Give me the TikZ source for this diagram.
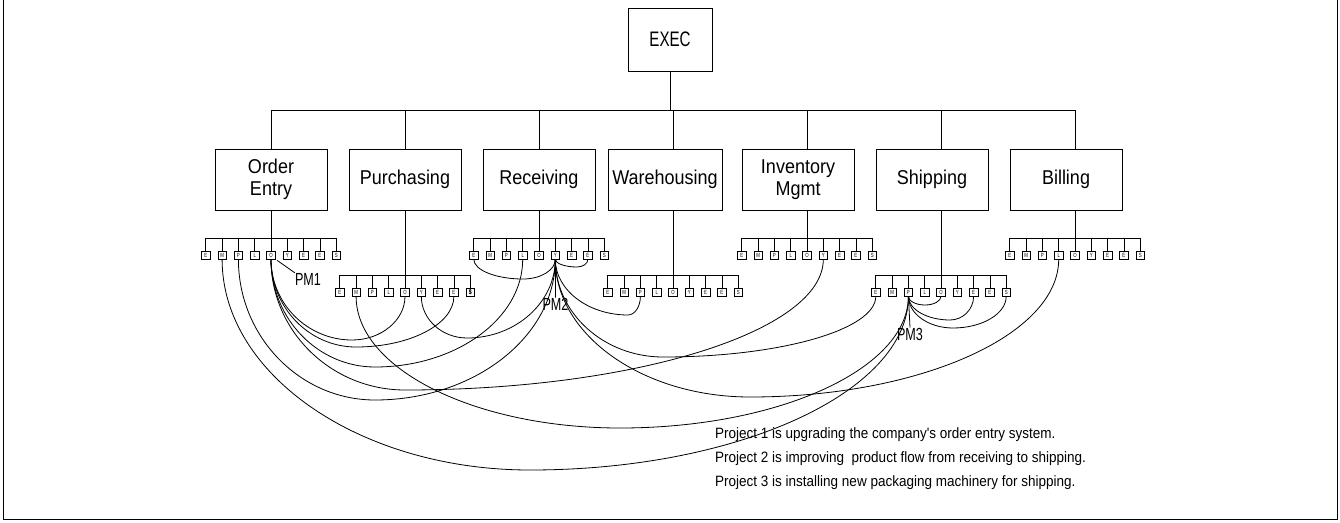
\documentclass[tikz,border=0pt]{standalone}
\usepackage{fontspec}
\setmainfont{Liberation Sans}
\newfontfamily\deptf[FakeStretch=0.9]{Liberation Sans}
\newfontfamily\capf[FakeStretch=0.72]{Liberation Sans}
\newfontfamily\textf[FakeStretch=0.9]{Liberation Sans}
\usetikzlibrary{calc}
\tikzset{
  dept/.style={draw, line width=0.8pt, minimum width=112pt, minimum height=61pt, align=center, inner sep=0pt, font=\deptf\fontsize{20}{22}\selectfont},
  exbox/.style={draw, line width=0.8pt, minimum width=84pt, minimum height=63pt, inner sep=0pt, font=\capf\fontsize{21}{22}\selectfont},
  emp/.style={draw, line width=0.6pt, minimum width=8.5pt, minimum height=8pt, inner sep=0pt, font=\capf\fontsize{6}{6}\selectfont},
  org/.style={line width=0.8pt},
  link/.style={line width=0.8pt},
  pmlab/.style={font=\capf\fontsize{17.5}{18}\selectfont, inner sep=0pt},
  note/.style={anchor=west, inner sep=0pt, font=\textf\fontsize{15}{16}\selectfont}
}
\newcommand\lnk[4]{%
  \pgfpointanchor{#1}{south}\pgfgetlastxy{\lax}{\lay}%
  \pgfpointanchor{#2}{south}\pgfgetlastxy{\lbx}{\lby}%
  \pgfmathsetmacro\ha{0.55*(#4+\lay)}%
  \pgfmathsetmacro\wa{0.55*(#3-\lax)}%
  \pgfmathsetmacro\hb{0.55*(#4+\lby)}%
  \pgfmathsetmacro\wb{0.55*(\lbx-#3)}%
  \draw[link] (#1.south) .. controls +(0,\ha) and +(-\wa,0) .. (#3,#4) .. controls +(\wb,0) and +(0,\hb) .. (#2.south);}
\begin{document}
\begin{tikzpicture}[x=1pt,y=-1pt]
\useasboundingbox (0,0) rectangle (1340,522);
\draw[line width=0.8pt] (3,0) -- (3,519) -- (1337,519) -- (1337,0);
% exec
\node[exbox] (exec) at (670,39.5) {EXEC};
% departments
\node[dept] (oe) at (271,179.5) {Order\\Entry};
\node[dept] (pu) at (405,179.5) {Purchasing};
\node[dept] (rc) at (539,179.5) {Receiving};
\node[dept, minimum width=114pt] (wh) at (665,179.5) {Warehousing};
\node[dept] (in) at (798,179.5) {Inventory\\Mgmt};
\node[dept] (sh) at (932,179.5) {Shipping};
\node[dept] (bi) at (1066,179.5) {Billing};
\draw[org] (exec.south) -- (670,110);
\draw[org] (271,110) -- (1075,110);
\foreach \n/\x in {oe/271,pu/405,rc/539,wh/673,in/807,sh/941,bi/1075}
  \draw[org] (\x,110) -- (\x,149);
% employee rows
\foreach \d/\c/\yb in {oe/271/238,pu/405/275,rc/539/238,wh/673/275,in/807/238,sh/941/275,bi/1075/238}{
  \foreach \l [count=\i from 0] in {E,M,P,L,O,Y,E,E,S}{
    \node[emp] (\d\i) at ({\c+(\i-4)*16.3},\yb+17) {\l};
    \draw[org] (\d\i.north) -- ({\c+(\i-4)*16.3},\yb);
  }
  \draw[org] ({\c-4*16.3},\yb) -- ({\c+4*16.3},\yb);
  \draw[org] (\c,210) -- (\c,\yb);
}
\node[emp, font=\capf\bfseries\fontsize{7}{7}\selectfont] at (pu8) {\$};
% project managers
\node[pmlab] (pm1) at (308,279) {PM1};
\draw[org] ($(oe4.south)+(6,1)$) -- (pm1.north west);
\node[pmlab] (pm2) at (555.5,304) {PM2};
\draw[org] (rc5.south) -- (pm2.north);
\node[pmlab] (pm3) at (910,334) {PM3};
\draw[org] (sh2.south) -- (pm3.north);
% project 1
\lnk{oe4}{pu4}{352}{340}
\lnk{oe4}{pu7}{356}{347}
\lnk{oe4}{rc3}{375}{367}
\lnk{oe4}{in5}{405}{390}
% project 2
\lnk{rc0}{rc5}{523}{279}
\lnk{rc5}{rc7}{577}{267}
\lnk{pu5}{rc5}{467}{338}
\lnk{oe2}{rc5}{375}{400}
\lnk{rc5}{wh2}{628}{315}
\lnk{rc5}{sh0}{663}{357}
\lnk{rc5}{bi3}{750}{397}
% project 3
\lnk{sh2}{sh4}{925}{305}
\lnk{sh2}{sh6}{950}{320}
\lnk{sh2}{sh8}{953}{328}
\lnk{pu1}{sh2}{620}{428}
\lnk{oe1}{sh2}{530}{470}
% notes
\node[note] (n1) at (715,435) {Project 1 is upgrading the company's order entry system.};
\node[note] (n2) at (715,459) {Project 2 is improving\ \ product flow from receiving to shipping.};
\node[note] (n3) at (715,483) {Project 3 is installing new packaging machinery for shipping.};
\end{tikzpicture}
\end{document}
